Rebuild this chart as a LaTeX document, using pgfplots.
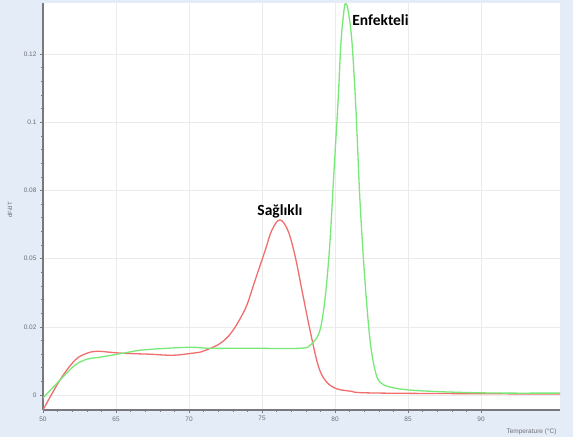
\documentclass[border=0pt]{standalone}
\usepackage{pgfplots}
\pgfplotsset{compat=1.18}
\usepackage{fontspec}
\setmainfont{Liberation Sans}
\newfontfamily\carlito{Carlito}
\definecolor{bgblue}{RGB}{228,236,248}
\definecolor{redc}{RGB}{240,110,110}
\definecolor{greenc}{RGB}{120,232,120}
\definecolor{gridc}{RGB}{235,235,235}
\definecolor{axc}{RGB}{120,120,125}
\definecolor{labc}{RGB}{110,110,115}
\begin{document}
\begin{tikzpicture}
\fill[bgblue] (-43pt,-27pt) rectangle (530pt,410pt);
\begin{axis}[
  at={(0pt,0pt)}, anchor=south west,
  scale only axis, width=517pt, height=407pt,
  axis background/.style={fill=white},
  xmin=60, xmax=95.41, ymin=-0.219, ymax=5.75,
  axis x line=bottom, axis y line=left,
  axis line style={-, axc, line width=1.4pt},
  xtick={60,65,...,90},
  xticklabels={50,65,70,75,80,85,90},
  ytick={0,1,2,3,4,5},
  yticklabels={0,0.02,0.05,0.08,0.1,0.12},
  minor x tick num=4, minor y tick num=4,
  tick align=outside,
  major tick length=3pt, minor tick length=2pt,
  tick style={axc, line width=0.6pt},
  grid=major, major grid style={gridc, line width=0.6pt},
  tick label style={font=\fontsize{6.5}{7}\selectfont, text=labc},
  /pgf/number format/assume math mode=true,
  clip=true,
]
\addplot[redc, line width=1.3pt, smooth, tension=0.6] coordinates {
(60,-0.219) (61.16,0.219) (62.19,0.511) (63.01,0.613) (63.70,0.642)
(64.59,0.628) (65.48,0.613) (67.33,0.599) (68.90,0.584) (70.21,0.613)
(70.75,0.628) (71.78,0.715) (72.40,0.800) (72.95,0.930) (73.50,1.120) (73.98,1.330) (74.52,1.679)
(75.21,2.117) (75.68,2.420) (76.23,2.569) (76.78,2.409) (77.26,2.044)
(77.74,1.533) (78.29,0.949) (78.84,0.438) (79.32,0.219) (80.0,0.102)
(81.03,0.058) (83.08,0.029) (95.41,0.015)
};
\addplot[greenc, line width=1.3pt, smooth, tension=0.55] coordinates {
(60,-0.044) (61.16,0.219) (62.19,0.438) (63.01,0.526) (63.90,0.555)
(65.48,0.613) (66.64,0.657) (68.49,0.686) (70.21,0.701) (71.44,0.686)
(74.18,0.686) (77.60,0.686) (78.29,0.730) (78.84,0.876) (79.11,1.095)
(79.38,1.533) (79.66,2.263) (79.93,3.285) (80.21,4.307) (80.41,5.182)
(80.62,5.650) (80.72,5.740) (80.89,5.650) (81.16,5.182) (81.44,4.161)
(81.71,2.847) (82.05,1.679) (82.40,0.803) (82.74,0.365) (83.08,0.190)
(83.77,0.117) (85.14,0.073) (87.88,0.044) (91.30,0.029) (95.41,0.029)
};
\node[font=\carlito\bfseries\fontsize{15.5}{16}\selectfont, anchor=base] at (axis cs:76.23,2.63) {Sağlıklı};
\node[font=\carlito\bfseries\fontsize{15.5}{16}\selectfont, anchor=west] at (axis cs:80.95,5.5) {Enfekteli};
\end{axis}
\node[rotate=90, font=\fontsize{6}{7}\selectfont, text=labc] at (-33pt,200pt) {dF/dT};
\node[anchor=east, font=\fontsize{6.5}{7}\selectfont, text=labc] at (517pt,-22pt) {Temperature (°C)};
\end{tikzpicture}
\end{document}
